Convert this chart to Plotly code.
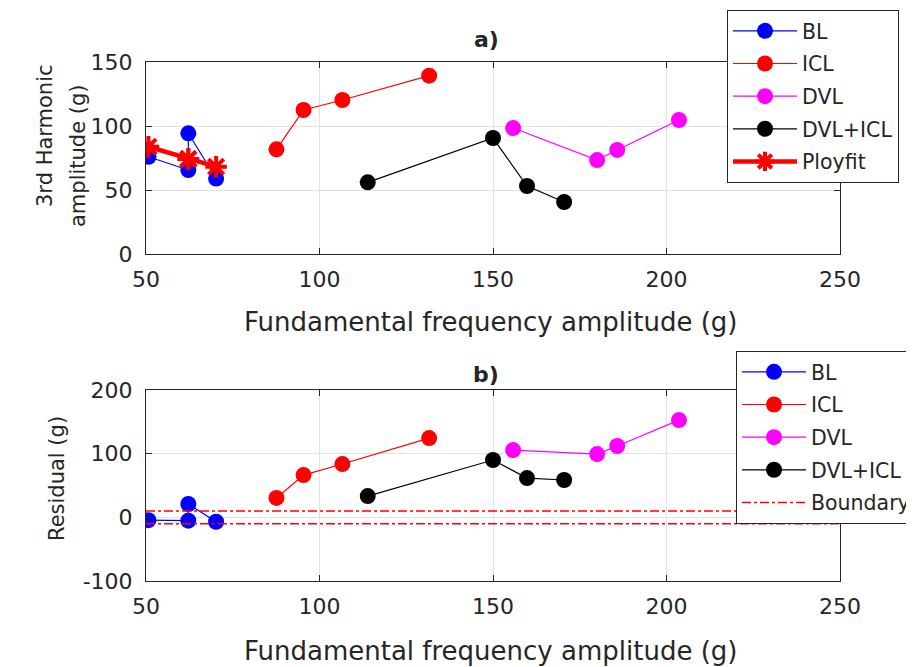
import plotly.graph_objects as go

# ---- data ----
bl_x = [50.7, 62.2, 62.2, 70.2]
bl_y_a = [76.0, 65.6, 94.3, 59.0]
bl_y_b = [-4.4, -5.3, 20.9, -6.9]

icl_x = [87.6, 95.4, 106.6, 131.6]
icl_y_a = [81.8, 112.5, 120.3, 139.3]
icl_y_b = [30.5, 66.4, 83.7, 124.5]

dvl_x = [155.8, 180.0, 185.8, 203.6]
dvl_y_a = [98.4, 73.4, 81.3, 104.7]
dvl_y_b = [105.7, 99.4, 112.0, 152.7]

dvlicl_x = [113.9, 150.0, 159.8, 170.5]
dvlicl_y_a = [56.0, 90.6, 53.1, 40.6]
dvlicl_y_b = [33.4, 90.0, 61.7, 58.6]

fit_x = [50.7, 62.2, 62.2, 70.2]
fit_y = [83.8, 74.2, 74.2, 68.2]

boundary_x = [50, 250, None, 50, 250]
boundary_y = [10, 10, None, -10, -10]

x_ticks = [50, 100, 150, 200, 250]
ya_ticks = [0, 50, 100, 150]
yb_ticks = [-100, 0, 100, 200]
yb_labels = ["-100", "0", "100", "200"]

# page has an 8px body margin, so the figure is drawn 8px in from the corner
OFF = 8
W, H = 914 - OFF, 667 - OFF
FONT = "DejaVu Sans, Liberation Sans, Arial, sans-serif"
AX = "#262626"

fig = go.Figure()


def series(x, y, name, color, xa, ya, legend, width=1.2):
    fig.add_trace(go.Scatter(
        x=x, y=y, name=name, mode="lines+markers",
        line=dict(color=color, width=width),
        marker=dict(color=color, size=16, symbol="circle"),
        xaxis=xa, yaxis=ya, legend=legend, legendgroup=name + legend))


series(bl_x, bl_y_a, "BL", "#0000FF", "x", "y", "legend")
series(icl_x, icl_y_a, "ICL", "#FF0000", "x", "y", "legend")
series(dvl_x, dvl_y_a, "DVL", "#FF00FF", "x", "y", "legend")
series(dvlicl_x, dvlicl_y_a, "DVL+ICL", "#000000", "x", "y", "legend")
fig.add_trace(go.Scatter(
    x=fit_x, y=fit_y, name="Ployfit", mode="lines+markers",
    line=dict(color="#FF0000", width=4.5),
    marker=dict(color="#FF0000", size=18, symbol="asterisk-open",
                line=dict(color="#FF0000", width=4)),
    xaxis="x", yaxis="y", legend="legend", legendgroup="fit"))

series(bl_x, bl_y_b, "BL", "#0000FF", "x2", "y2", "legend2")
series(icl_x, icl_y_b, "ICL", "#FF0000", "x2", "y2", "legend2")
series(dvl_x, dvl_y_b, "DVL", "#FF00FF", "x2", "y2", "legend2")
series(dvlicl_x, dvlicl_y_b, "DVL+ICL", "#000000", "x2", "y2", "legend2")
fig.add_trace(go.Scatter(
    x=boundary_x, y=boundary_y, name="Boundary", mode="lines",
    line=dict(color="#FF0000", width=1.5, dash="dashdot"),
    xaxis="x2", yaxis="y2", legend="legend2", legendgroup="bnd"))


def px_x(p):
    return (p - OFF) / W


def px_y(p):
    return 1 - (p - OFF) / H


common_x = dict(
    showline=True, linecolor=AX, linewidth=1, mirror="ticks",
    ticks="inside", ticklen=6, tickcolor=AX, showgrid=True,
    gridcolor="#e3e3e3", gridwidth=1, zeroline=False,
    tickfont=dict(family=FONT, size=22, color=AX), ticklabelstandoff=6)
common_y = dict(common_x, ticklabelstandoff=8)

legend_style = dict(bgcolor="white", bordercolor=AX, borderwidth=1,
                    font=dict(family=FONT, size=20.5, color=AX),
                    itemwidth=64, traceorder="grouped", tracegroupgap=3)

fig.update_layout(
    width=W, height=H, margin=dict(l=0, r=0, t=0, b=0, autoexpand=False),
    paper_bgcolor="white", plot_bgcolor="white",
    font=dict(family=FONT, color=AX),
    xaxis=dict(domain=[px_x(146), px_x(840)], range=[50, 250], tickvals=x_ticks,
               anchor="y", **common_x),
    yaxis=dict(domain=[px_y(254), px_y(62)], range=[0, 150], tickvals=ya_ticks,
               anchor="x", **common_y),
    xaxis2=dict(domain=[px_x(146), px_x(840)], range=[50, 250], tickvals=x_ticks,
                anchor="y2", **common_x),
    yaxis2=dict(domain=[px_y(581), px_y(390)], range=[-100, 200], tickvals=yb_ticks,
                ticktext=yb_labels, anchor="x2", **common_y),
    legend=dict(x=px_x(727), y=px_y(10), xanchor="left", yanchor="top", **legend_style),
    legend2=dict(x=px_x(736), y=px_y(351), xanchor="left", yanchor="top", **legend_style),
    showlegend=True,
)

ann = [
    ("<b>a)</b>", 486, 40, 22, 0),
    ("<b>b)</b>", 486, 374, 22, 0),
    ("Fundamental frequency amplitude (g)", 491, 322, 26, 0),
    ("Fundamental frequency amplitude (g)", 491, 651, 26, 0),
    ("3rd Harmonic", 45, 136, 21, -90),
    ("amplitude (g)", 78, 156, 21, -90),
    ("Residual (g)", 57, 479, 21, -90),
]
for text, x, y, size, angle in ann:
    fig.add_annotation(xref="paper", yref="paper", showarrow=False,
                       xanchor="center", yanchor="middle", text=text,
                       x=px_x(x), y=px_y(y), textangle=angle,
                       font=dict(family=FONT, size=size, color=AX))

fig.write_html("out.html")
